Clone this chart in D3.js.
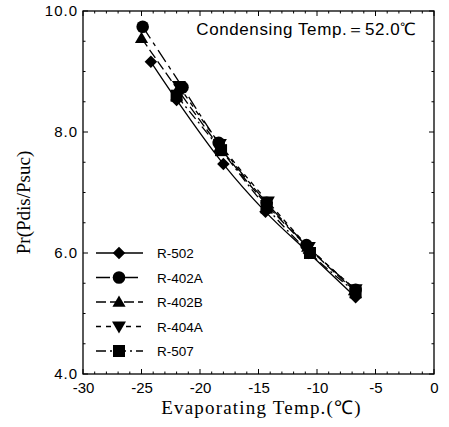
<!DOCTYPE html>
<html>
<head>
<meta charset="utf-8">
<script src="https://cdn.jsdelivr.net/npm/d3@7"></script>
<style>
body { margin: 0; background: #fff; }
</style>
</head>
<body>
<div id="chart"></div>
<script>
var evapTemps = {
	"R-502":  [-24.2, -22.0, -18.0, -14.4, -10.7, -6.7],
	"R-402A": [-24.9, -21.5, -18.4, -14.3, -10.9, -6.7],
	"R-402B": [-25.0, -21.9, -18.3, -14.3, -10.8, -6.8],
	"R-404A": [-21.8, -18.3, -14.2, -10.7, -6.7],
	"R-507":  [-22.0, -18.2, -14.3, -10.6, -6.7]
};
var pressureRatios = {
	"R-502":  [9.16, 8.53, 7.47, 6.68, 6.00, 5.27],
	"R-402A": [9.74, 8.74, 7.82, 6.83, 6.13, 5.39],
	"R-402B": [9.55, 8.70, 7.75, 6.80, 6.10, 5.38],
	"R-404A": [8.76, 7.80, 6.85, 6.10, 5.40],
	"R-507":  [8.60, 7.70, 6.75, 6.00, 5.35]
};
var refrigerants = ["R-502", "R-402A", "R-402B", "R-404A", "R-507"];
var xTicks = [-30, -25, -20, -15, -10, -5, 0];
var yTicks = [4, 6, 8, 10];

var margin = {top: 11, right: 15, bottom: 53, left: 83},
	width = 449 - margin.left - margin.right,
	height = 427 - margin.top - margin.bottom;

var svg = d3.select("#chart")
	.append("svg")
	.attr("width", 449)
	.attr("height", 427)
	.append("g")
	.attr("transform", "translate(" + margin.left + "," + margin.top + ")");

var x = d3.scaleLinear().domain([-30, 0]).range([0, width]);
var y = d3.scaleLinear().domain([4, 10]).range([height, 0]);

// frame
svg.append("rect")
	.attr("width", width).attr("height", height)
	.attr("fill", "none").attr("stroke", "#000").attr("stroke-width", 1.3);

// ticks inside (bottom & top, left & right)
var xMinor = d3.range(-30, 0.5, 1);
var yMinor = d3.range(4, 10.01, 0.5);
xMinor.forEach(function(v) {
	var len = (v % 5 === 0) ? 5 : 2.5;
	svg.append("line").attr("x1", x(v)).attr("x2", x(v)).attr("y1", height).attr("y2", height - len).attr("stroke", "#000");
	svg.append("line").attr("x1", x(v)).attr("x2", x(v)).attr("y1", 0).attr("y2", len).attr("stroke", "#000");
});
yMinor.forEach(function(v) {
	var len = (v % 2 === 0) ? 5 : 2.5;
	svg.append("line").attr("y1", y(v)).attr("y2", y(v)).attr("x1", 0).attr("x2", len).attr("stroke", "#000");
	svg.append("line").attr("y1", y(v)).attr("y2", y(v)).attr("x1", width).attr("x2", width - len).attr("stroke", "#000");
});

var xAxis = svg.append("g")
	.attr("transform", "translate(0," + height + ")")
	.call(d3.axisBottom(x).tickValues(xTicks).tickSize(0).tickPadding(8).tickFormat(function(d) { return String(d); }));
var yAxis = svg.append("g")
	.call(d3.axisLeft(y).tickValues(yTicks).tickSize(0).tickPadding(5).tickFormat(d3.format(".1f")));
[xAxis, yAxis].forEach(function(a) {
	a.select(".domain").remove();
	a.selectAll("text").style("font-family", "Liberation Sans, Arial, sans-serif").style("font-size", "15px").attr("fill", "#000");
});
yAxis.selectAll("text").style("letter-spacing", "1px");

// line styles
var dashes = {
	"R-502": null,
	"R-402A": "14,5,4,5",
	"R-402B": "10,4",
	"R-404A": "5,5",
	"R-507": "10,4,2,4"
};
var line = d3.line()
	.x(function(d) { return x(d[0]); })
	.y(function(d) { return y(d[1]); })
	.curve(d3.curveMonotoneX);

function marker(g, name, cx, cy) {
	if (name === "R-502") {
		g.append("path").attr("d", d3.symbol().type(d3.symbolDiamond2).size(100)()).attr("transform", "translate(" + cx + "," + cy + ")");
	} else if (name === "R-402A") {
		g.append("circle").attr("cx", cx).attr("cy", cy).attr("r", 6.3);
	} else if (name === "R-402B") {
		g.append("path").attr("d", d3.symbol().type(d3.symbolTriangle).size(75)()).attr("transform", "translate(" + cx + "," + (cy + 1) + ")");
	} else if (name === "R-404A") {
		g.append("path").attr("d", d3.symbol().type(d3.symbolTriangle).size(85)()).attr("transform", "translate(" + cx + "," + (cy - 1) + ") rotate(180)");
	} else {
		g.append("rect").attr("x", cx - 6).attr("y", cy - 6).attr("width", 12).attr("height", 12);
	}
}

refrigerants.forEach(function(name) {
	var pts = evapTemps[name].map(function(t, i) { return [t, pressureRatios[name][i]]; });
	svg.append("path")
		.attr("d", line(pts))
		.attr("fill", "none").attr("stroke", "#000").attr("stroke-width", 1.3)
		.attr("stroke-dasharray", dashes[name]);
	var g = svg.append("g").attr("fill", "#000");
	pts.forEach(function(p) { marker(g, name, x(p[0]), y(p[1])); });
});

// legend
refrigerants.forEach(function(name, i) {
	var ly = 242 + i * 24.5;
	var g = svg.append("g").attr("fill", "#000");
	g.append("line").attr("x1", 13).attr("x2", 60).attr("y1", ly).attr("y2", ly)
		.attr("stroke", "#000").attr("stroke-width", 1.3).attr("stroke-dasharray", dashes[name]);
	marker(g, name, 36, ly);
	g.append("text").attr("x", 74).attr("y", ly + 5)
		.style("font-family", "Liberation Sans, Arial, sans-serif").style("font-size", "13.5px")
		.text(name);
});

// annotation
svg.append("text")
	.attr("x", width - 17).attr("y", 24)
	.attr("text-anchor", "end")
	.style("font-family", "Liberation Sans, Arial, sans-serif").style("font-size", "17px")
	.style("letter-spacing", "0.6px")
	.text("Condensing Temp.＝52.0℃");

// axis titles
svg.append("text")
	.attr("x", width / 2 + 3).attr("y", height + 40)
	.attr("text-anchor", "middle")
	.style("font-family", "Liberation Serif, Times New Roman, serif").style("font-size", "19px")
	.style("letter-spacing", "1.2px")
	.text("Evaporating Temp.(℃)");
svg.append("text")
	.attr("transform", "rotate(-90)")
	.attr("x", -height / 2 - 10).attr("y", -53)
	.attr("text-anchor", "middle")
	.style("font-family", "Liberation Serif, Times New Roman, serif").style("font-size", "19px")
	.text("Pr(Pdis/Psuc)");
</script>
</body>
</html>
